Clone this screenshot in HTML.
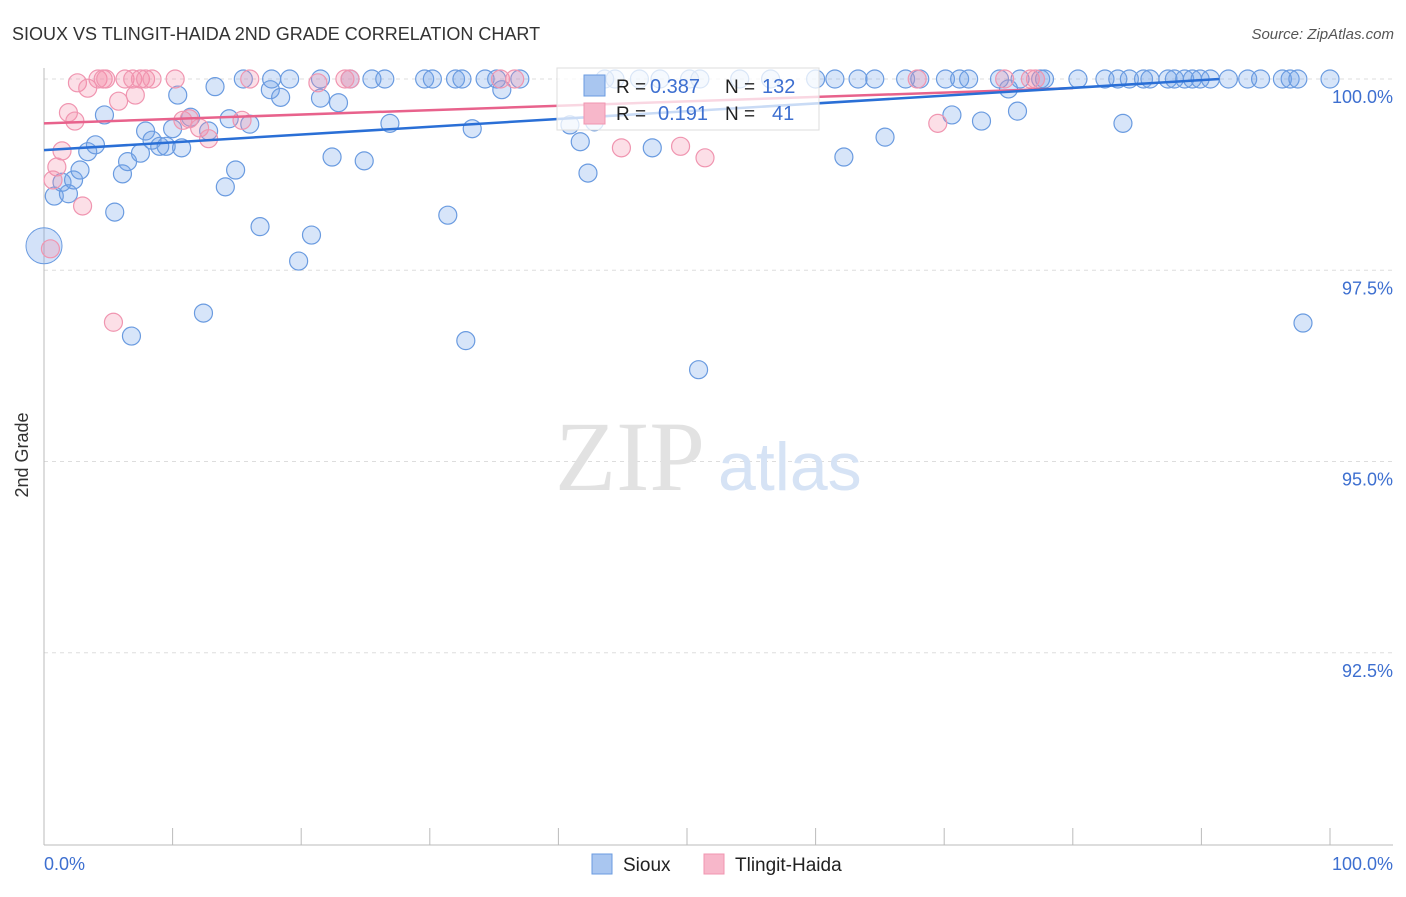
<!DOCTYPE html>
<html><head><meta charset="utf-8"><style>
body{margin:0;background:#fff;font-family:"Liberation Sans",sans-serif}
svg text{font-family:"Liberation Sans",sans-serif}
</style></head><body>
<svg width="1406" height="892" viewBox="0 0 1406 892">
<text x="12" y="40" font-size="18" fill="#333">SIOUX VS TLINGIT-HAIDA 2ND GRADE CORRELATION CHART</text>
<text x="1394" y="39" font-size="15" fill="#555" font-style="italic" text-anchor="end">Source: ZipAtlas.com</text>
<g id="grid"></g>
<text x="555" y="490" font-size="100" fill="#e2e2e2" font-family="Liberation Serif" style="font-family:'Liberation Serif',serif">ZIP</text>
<text x="718" y="490" font-size="68" fill="#d6e3f5">atlas</text>
<line x1="44" y1="68" x2="44" y2="845" stroke="#bbb"/>
<line x1="44" y1="845" x2="1393" y2="845" stroke="#bbb"/>
<g id="ticks"></g>
<g id="pts"></g>
<g id="trend"></g>
<text x="28" y="455" font-size="18" fill="#333" text-anchor="middle" transform="rotate(-90 28 455)">2nd Grade</text>
<text x="44" y="870" font-size="18" fill="#3d6fd0">0.0%</text>
<text x="1393" y="870" font-size="18" fill="#3d6fd0" text-anchor="end">100.0%</text>
<g>
<rect x="557" y="68" width="262" height="62" fill="#fff" fill-opacity="0.75" stroke="#ddd"/>
<rect x="584" y="75" width="21" height="21" fill="#a9c6f0" stroke="#6a9be0"/>
<rect x="584" y="103" width="21" height="21" fill="#f7b7ca" stroke="#f095b0"/>
<text x="616" y="93" font-size="19" fill="#222">R = </text><text x="650" y="93" font-size="20" fill="#3d6fd0">0.387</text>
<text x="725" y="93" font-size="19" fill="#222">N = </text><text x="762" y="93" font-size="20" fill="#3d6fd0">132</text>
<text x="616" y="120" font-size="19" fill="#222">R = </text><text x="658" y="120" font-size="20" fill="#3d6fd0">0.191</text>
<text x="725" y="120" font-size="19" fill="#222">N = </text><text x="772" y="120" font-size="20" fill="#3d6fd0">41</text>
</g>
<g><rect x="592" y="854" width="20" height="20" fill="#a9c6f0" stroke="#6a9be0"/><text x="623" y="871" font-size="19" fill="#222">Sioux</text></g>
<g><rect x="704" y="854" width="20" height="20" fill="#f7b7ca" stroke="#f095b0"/><text x="735" y="871" font-size="19" fill="#222">Tlingit-Haida</text></g>
</svg>
<script>
const yTicks=[100,97.5,95,92.5];
const yTickLabels=["100.0%","97.5%","95.0%","92.5%"];
const xTicks=[0,10,20,30,40,50,60,70,80,90,100];
const siouxX=[0.8,1.4,1.9,2.3,2.8,3.4,4.0,4.7,5.5,6.1,6.5,7.5,7.9,8.4,9.0,9.5,10.0,10.4,10.7,11.4,12.4,12.8,13.3,14.1,14.4,14.9,16.0,16.8,17.6,18.4,19.8,20.8,21.5,22.4,22.9,24.9,26.9,31.4,32.8,33.3,35.6,40.9,41.7,42.3,42.8,47.3,50.9,62.2,65.4,70.6,72.9,75.0,75.7,83.9,97.9,6.8,
15.5,17.7,19.1,21.5,23.8,25.5,26.5,29.6,30.2,32.0,32.5,34.3,35.2,37.0,43.6,44.4,46.3,47.9,50.2,51.0,54.1,56.5,60.0,61.5,63.3,64.6,67.0,68.1,70.1,71.2,71.9,74.3,75.9,77.5,77.8,80.4,82.5,83.5,84.4,85.5,86.0,87.4,87.9,88.7,89.3,89.9,90.7,92.1,93.6,94.6,96.3,96.9,97.5,100];
const siouxY=[98.47,98.65,98.50,98.68,98.81,99.05,99.14,99.53,98.26,98.76,98.92,99.03,99.32,99.20,99.12,99.12,99.35,99.79,99.10,99.50,96.94,99.32,99.90,98.59,99.48,98.81,99.41,98.07,99.86,99.76,97.62,97.96,99.75,98.98,99.69,98.93,99.42,98.22,96.58,99.35,99.86,99.40,99.18,98.77,99.44,99.10,96.20,98.98,99.24,99.53,99.45,99.87,99.58,99.42,96.81,96.64,
100,100,100,100,100,100,100,100,100,100,100,100,100,100,100,100,100,100,100,100,100,100,100,100,100,100,100,100,100,100,100,100,100,100,100,100,100,100,100,100,100,100,100,100,100,100,100,100,100,100,100,100,100,100];
const tlingitX=[1.9,2.4,5.8,7.1,1.4,1.0,0.7,3.0,5.4,0.5,10.8,11.3,12.1,12.8,15.4,21.3,44.9,49.5,51.4,69.5,2.6,3.4,4.2,4.6,4.8,6.3,6.9,7.5,7.9,8.4,10.2,16.0,23.4,23.8,35.5,36.6,67.9,74.7,76.7,77.1];
const tlingitY=[99.56,99.45,99.71,99.79,99.06,98.85,98.68,98.34,96.82,97.78,99.46,99.48,99.36,99.22,99.46,99.95,99.10,99.12,98.97,99.42,99.95,99.88,100,100,100,100,100,100,100,100,100,100,100,100,100,100,100,100,100,100];
const siouxTrend=[[0,99.07],[91.4,100]];
const tlingitTrend=[[0,99.42],[80,99.88]];
const NS="http://www.w3.org/2000/svg";
const X=v=>44+v*12.86, Y=v=>79+(100-v)*76.5;
function mk(t,a,p){const e=document.createElementNS(NS,t);for(const k in a)e.setAttribute(k,a[k]);p.appendChild(e);return e;}
const grid=document.getElementById('grid');
yTicks.forEach((t,i)=>{
 const l=mk('line',{x1:44,x2:1393,y1:Y(t),y2:Y(t),stroke:'#ddd','stroke-dasharray':'4,4'},grid);
 
 
 const tx=mk('text',{x:1393,y:Y(t)+24,'font-size':18,fill:'#3d6fd0','text-anchor':'end'},grid);
 tx.textContent=yTickLabels[i];
 
 
});
const tk=document.getElementById('ticks');
xTicks.forEach(t=>{
 const l=mk('line',{x1:X(t),x2:X(t),y1:828,y2:845,stroke:'#bbb'},tk);
 
 
});
const pts=document.getElementById('pts');
const big=mk('circle',{cx:X(0),cy:Y(97.82),r:18,fill:'rgba(110,160,235,0.3)',stroke:'#6a9be0'},pts);


siouxX.forEach((x,i)=>{
 const c=mk('circle',{cx:X(x),cy:Y(siouxY[i]),r:9,fill:'rgba(110,160,235,0.28)',stroke:'#6a9be0','stroke-width':1.2},pts);
 
 
});
tlingitX.forEach((x,i)=>{
 const c=mk('circle',{cx:X(x),cy:Y(tlingitY[i]),r:9,fill:'rgba(245,140,170,0.28)',stroke:'#f095b0','stroke-width':1.2},pts);
 
 
});
const tr=document.getElementById('trend');
let a=mk('line',{x1:X(tlingitTrend[0][0]),y1:Y(tlingitTrend[0][1]),x2:X(tlingitTrend[1][0]),y2:Y(tlingitTrend[1][1]),stroke:'#e8628c','stroke-width':2.5},tr);


let b=mk('line',{x1:X(siouxTrend[0][0]),y1:Y(siouxTrend[0][1]),x2:X(siouxTrend[1][0]),y2:Y(siouxTrend[1][1]),stroke:'#2a6fd6','stroke-width':2.5},tr);


</script>
</body></html>
